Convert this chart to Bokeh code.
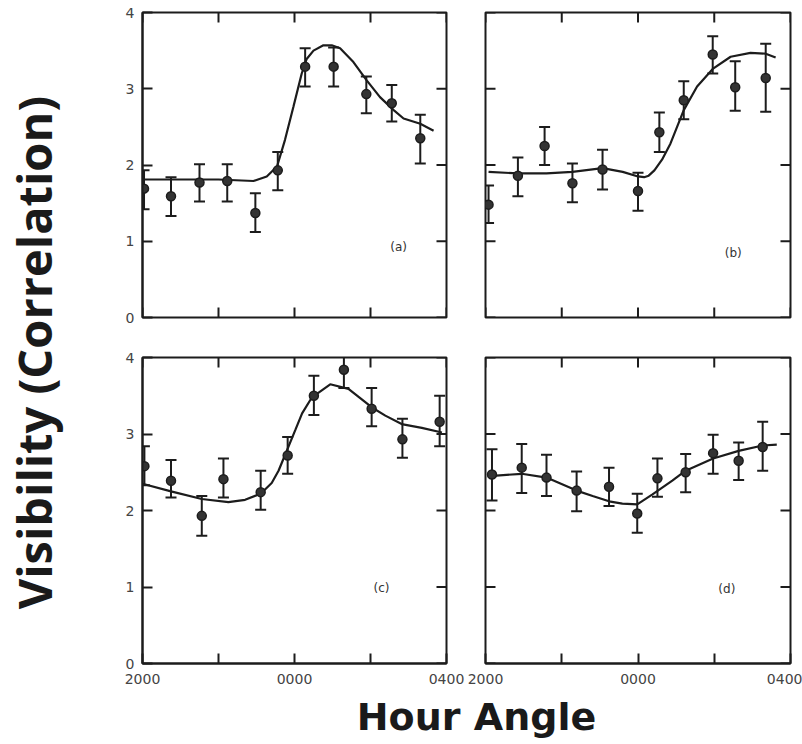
import math
from bokeh.plotting import figure
from bokeh.layouts import row, column
from bokeh.models import (ColumnDataSource, FixedTicker, Whisker,
                          TeeHead, Range1d, Label)
from bokeh.embed import file_html
from bokeh.resources import INLINE

# ---------------- data (hour angle in hours, 0 = 0000) ----------------
x_min, x_max = -4, 4
y_min, y_max = 0, 4
x_ticks = [-4, -2, 0, 2, 4]
x_tick_labels = {-4: "2000", -2: "", 0: "0000", 2: "", 4: "0400"}
y_ticks = [0, 1, 2, 3, 4]
y_tick_labels = {0: "0", 1: "1", 2: "2", 3: "3", 4: "4"}

# panel (a)
xa = [-3.96, -3.25, -2.50, -1.77, -1.03, -0.44, 0.28, 1.03, 1.89, 2.56, 3.31]
ya = [1.69, 1.59, 1.77, 1.79, 1.37, 1.93, 3.29, 3.29, 2.93, 2.81, 2.35]
ua = [1.93, 1.84, 2.01, 2.01, 1.63, 2.17, 3.53, 3.54, 3.16, 3.05, 2.66]
la = [1.42, 1.33, 1.52, 1.52, 1.12, 1.67, 3.03, 3.03, 2.68, 2.57, 2.02]
fit_xa = [-3.96, -3.0, -2.0, -1.08, -0.73, -0.46, -0.25, -0.03, 0.19, 0.32,
          0.50, 0.76, 0.98, 1.20, 1.55, 1.90, 2.25, 2.61, 2.87, 3.31, 3.66]
fit_ya = [1.81, 1.81, 1.81, 1.79, 1.85, 1.98, 2.33, 2.76, 3.20, 3.39,
          3.50, 3.57, 3.57, 3.53, 3.35, 3.11, 2.89, 2.72, 2.61, 2.54, 2.45]

# panel (b)
xb = [-3.92, -3.15, -2.45, -1.72, -0.93, 0.00, 0.56, 1.20, 1.96, 2.55, 3.35]
yb = [1.48, 1.86, 2.25, 1.76, 1.94, 1.66, 2.43, 2.85, 3.45, 3.02, 3.14]
ub = [1.73, 2.10, 2.50, 2.02, 2.20, 1.90, 2.69, 3.10, 3.69, 3.36, 3.59]
lb = [1.24, 1.59, 2.00, 1.51, 1.68, 1.40, 2.17, 2.60, 3.20, 2.71, 2.70]
fit_xb = [-3.92, -3.15, -2.4, -1.72, -0.93, -0.4, 0.0, 0.16, 0.28, 0.43, 0.63,
          0.85, 1.2, 1.55, 1.96, 2.43, 2.95, 3.35, 3.61]
fit_yb = [1.91, 1.89, 1.89, 1.91, 1.96, 1.91, 1.85, 1.84, 1.86, 1.93, 2.07,
          2.28, 2.72, 3.03, 3.26, 3.42, 3.47, 3.46, 3.41]

# panel (c)
xc = [-3.95, -3.25, -2.44, -1.87, -0.89, -0.18, 0.51, 1.30, 2.03, 2.84, 3.82]
yc = [2.58, 2.39, 1.93, 2.41, 2.24, 2.72, 3.50, 3.84, 3.33, 2.93, 3.16]
uc = [2.84, 2.66, 2.19, 2.68, 2.52, 2.96, 3.76, 4.10, 3.60, 3.20, 3.50]
lc = [2.33, 2.17, 1.67, 2.17, 2.01, 2.48, 3.25, 3.60, 3.10, 2.69, 2.84]
fit_xc = [-4.0, -3.25, -2.44, -1.74, -1.3, -0.89, -0.6, -0.42, 0.02, 0.2, 0.46,
          0.94, 1.42, 2.03, 2.39, 2.82, 3.35, 3.88]
fit_yc = [2.35, 2.25, 2.15, 2.11, 2.14, 2.22, 2.36, 2.52, 3.05, 3.27, 3.48,
          3.65, 3.59, 3.35, 3.24, 3.13, 3.08, 3.02]

# panel (d)
xd = [-3.83, -3.05, -2.40, -1.61, -0.76, -0.02, 0.51, 1.25, 1.97, 2.64, 3.27]
yd = [2.47, 2.56, 2.43, 2.26, 2.31, 1.96, 2.42, 2.50, 2.75, 2.65, 2.83]
ud = [2.80, 2.87, 2.73, 2.51, 2.56, 2.22, 2.68, 2.74, 2.99, 2.89, 3.16]
ld = [2.13, 2.23, 2.19, 1.99, 2.06, 1.71, 2.18, 2.24, 2.48, 2.40, 2.52]
fit_xd = [-3.9, -3.05, -2.4, -1.61, -1.19, -0.76, -0.41, -0.02, 0.38, 0.9, 1.25,
          1.97, 2.64, 3.27, 3.64]
fit_yd = [2.45, 2.48, 2.43, 2.26, 2.19, 2.12, 2.09, 2.08, 2.21, 2.39, 2.52,
          2.68, 2.78, 2.85, 2.86]

panel_tags = ["(a)", "(b)", "(c)", "(d)"]
tag_x = [2.74, 2.50, 2.29, 2.33]
tag_y = [0.92, 0.85, 0.99, 0.98]

INK = "#1c1c1c"
TICK_FONT = "DejaVu Sans"


def style_axis(ax, ticks, overrides, standoff):
    ax.ticker = FixedTicker(ticks=ticks)
    ax.major_label_overrides = overrides
    ax.major_tick_in = 10
    ax.major_tick_out = 0
    ax.minor_tick_in = 0
    ax.minor_tick_out = 0
    ax.axis_line_color = INK
    ax.axis_line_width = 2
    ax.major_tick_line_color = INK
    ax.major_tick_line_width = 2
    ax.major_label_text_font = TICK_FONT
    ax.major_label_text_color = "#444444"
    ax.major_label_text_font_size = "14px"
    ax.major_label_standoff = standoff


def edge_ticks(p, xs, ys, vertical):
    # short inward tick marks on a frame edge (the outer half is clipped)
    p.scatter(xs, ys, marker="dash", size=20,
              angle=(math.pi / 2 if vertical else 0.0),
              line_color=INK, line_width=2)


def panel(x, y, up, lo, fx, fy, idx, show_x, show_y, fw, fh, bl, br, bt, bb):
    p = figure(frame_width=fw, frame_height=fh, title=None,
               x_range=Range1d(x_min, x_max), y_range=Range1d(y_min, y_max),
               x_axis_location=("below" if show_x else None),
               y_axis_location=("left" if show_y else None),
               output_backend="svg", toolbar_location=None,
               min_border_left=bl, min_border_right=br,
               min_border_top=bt, min_border_bottom=bb)
    p.grid.visible = False
    p.outline_line_color = INK
    p.outline_line_width = 2
    p.background_fill_color = "white"
    p.border_fill_color = "white"
    for ax in p.below:
        style_axis(ax, x_ticks, x_tick_labels, 10)
    for ax in p.left:
        style_axis(ax, y_ticks, y_tick_labels, 8)

    # tick marks on the sides without a labelled axis
    edge_ticks(p, x_ticks, [y_max] * len(x_ticks), True)
    edge_ticks(p, [x_max] * len(y_ticks), y_ticks, False)
    if not show_x:
        edge_ticks(p, x_ticks, [y_min] * len(x_ticks), True)
    if not show_y:
        edge_ticks(p, [x_min] * len(y_ticks), y_ticks, False)

    src = ColumnDataSource(dict(x=x, y=y, up=up, lo=lo))
    p.line(fx, fy, line_width=2.2, line_color=INK)
    w = Whisker(source=src, base="x", upper="up", lower="lo",
                dimension="height", line_color=INK, line_width=2,
                upper_head=TeeHead(size=11, line_color=INK, line_width=2),
                lower_head=TeeHead(size=11, line_color=INK, line_width=2))
    p.add_layout(w)
    p.scatter("x", "y", source=src, size=9, fill_color="#333333",
              line_color=INK, line_width=1.5)
    p.add_layout(Label(x=tag_x[idx], y=tag_y[idx], text=panel_tags[idx],
                       text_font=TICK_FONT, text_font_size="12px",
                       text_color="#333333", text_align="center",
                       text_baseline="middle"))
    return p


pa = panel(xa, ya, ua, la, fit_xa, fit_ya, 0, False, True, 304, 305, 42, 20, 12, 20)
pb = panel(xb, yb, ub, lb, fit_xb, fit_yb, 1, False, False, 305, 305, 19, 12, 12, 20)
pc = panel(xc, yc, uc, lc, fit_xc, fit_yc, 2, True, True, 304, 306, 42, 20, 20, 27)
pd = panel(xd, yd, ud, ld, fit_xd, fit_yd, 3, True, False, 305, 306, 19, 12, 20, 27)

# y title strip
yt = figure(frame_width=100, frame_height=744, title=None,
            x_range=Range1d(0, 100), y_range=Range1d(0, 744),
            x_axis_location=None, y_axis_location=None,
            output_backend="svg", toolbar_location=None,
            min_border_left=0, min_border_right=0, min_border_top=0,
            min_border_bottom=0)
yt.grid.visible = False
yt.outline_line_color = None
yt.add_layout(Label(x=33, y=392, text="Visibility (Correlation)",
                    angle=math.pi / 2, text_font="Open Sans",
                    text_font_style="bold", text_font_size="47px",
                    text_color="#1a1a1a", text_align="center",
                    text_baseline="middle"))

# x title strip
xt = figure(frame_width=702, frame_height=54, title=None,
            x_range=Range1d(0, 702), y_range=Range1d(0, 54),
            x_axis_location=None, y_axis_location=None,
            output_backend="svg", toolbar_location=None,
            min_border_left=0, min_border_right=0, min_border_top=0,
            min_border_bottom=0)
xt.grid.visible = False
xt.outline_line_color = None
xt.add_layout(Label(x=376, y=28, text="Hour Angle", text_font="DejaVu Sans",
                    text_font_style="bold", text_font_size="38px",
                    text_color="#1a1a1a", text_align="center",
                    text_baseline="middle"))

layout = row(yt, column(row(pa, pb), row(pc, pd), xt))

open("out.html", "w").write(file_html(layout, INLINE))
